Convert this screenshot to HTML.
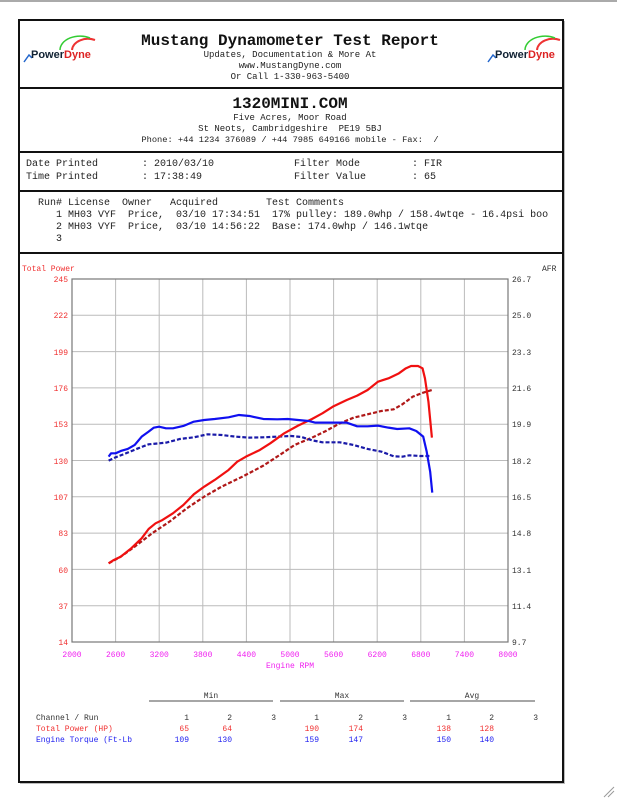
<!DOCTYPE html>
<html><head><meta charset="utf-8"><style>
html,body{margin:0;padding:0;background:#fff;}
body{width:617px;height:799px;position:relative;overflow:hidden;font-family:"Liberation Mono",monospace;color:#222;}
.t{position:absolute;white-space:pre;line-height:1;}
</style></head><body>
<div style="position:absolute;left:0;top:0;width:617px;height:2px;background:#aaa"></div>
<svg width="617" height="799" style="position:absolute;left:0;top:0">
<g fill="none" stroke="#111" stroke-width="2">
<rect x="19" y="20" width="544" height="762"/>
<line x1="19" y1="88" x2="563" y2="88"/>
<line x1="19" y1="152" x2="563" y2="152"/>
<line x1="19" y1="191" x2="563" y2="191"/>
<line x1="19" y1="253" x2="563" y2="253"/>
</g>
<line x1="20" y1="783.5" x2="564" y2="783.5" stroke="#bbb"/>
<line x1="564.5" y1="21" x2="564.5" y2="784" stroke="#bbb"/>
<g stroke="#999" stroke-width="1"><line x1="604" y1="797" x2="614" y2="787"/><line x1="608" y1="797" x2="614" y2="791"/></g>
<!-- logos -->
<g font-family="Liberation Sans,sans-serif" font-weight="bold" font-size="11">
<path d="M72 50 A16 12 0 0 1 95 40" stroke="#e33" stroke-width="2" fill="none"/>
<path d="M60 50 A20 14 0 0 1 90 38" stroke="#3c3" stroke-width="1.5" fill="none"/>
<path d="M24 62 L29 55 L32 58" stroke="#26c" stroke-width="1.5" fill="none"/>
<text x="31" y="58" fill="#123">Power<tspan fill="#d22">Dyne</tspan></text>
<path d="M537 50 A16 12 0 0 1 560 40" stroke="#e33" stroke-width="2" fill="none"/>
<path d="M525 50 A20 14 0 0 1 555 38" stroke="#3c3" stroke-width="1.5" fill="none"/>
<path d="M488 62 L493 55 L496 58" stroke="#26c" stroke-width="1.5" fill="none"/>
<text x="495" y="58" fill="#123">Power<tspan fill="#d22">Dyne</tspan></text>
</g>
<!-- chart grid -->
<g stroke="#bbb" stroke-width="1">
<line x1="115.6" y1="279" x2="115.6" y2="642"/><line x1="159.2" y1="279" x2="159.2" y2="642"/><line x1="202.8" y1="279" x2="202.8" y2="642"/><line x1="246.4" y1="279" x2="246.4" y2="642"/><line x1="290" y1="279" x2="290" y2="642"/><line x1="333.6" y1="279" x2="333.6" y2="642"/><line x1="377.2" y1="279" x2="377.2" y2="642"/><line x1="420.8" y1="279" x2="420.8" y2="642"/><line x1="464.4" y1="279" x2="464.4" y2="642"/>
<line x1="72" y1="315.3" x2="508" y2="315.3"/><line x1="72" y1="351.6" x2="508" y2="351.6"/><line x1="72" y1="387.9" x2="508" y2="387.9"/><line x1="72" y1="424.2" x2="508" y2="424.2"/><line x1="72" y1="460.5" x2="508" y2="460.5"/><line x1="72" y1="496.8" x2="508" y2="496.8"/><line x1="72" y1="533.1" x2="508" y2="533.1"/><line x1="72" y1="569.4" x2="508" y2="569.4"/><line x1="72" y1="605.7" x2="508" y2="605.7"/>
</g>
<rect x="72" y="279" width="436" height="363" fill="none" stroke="#777" stroke-width="1.2"/>
<g transform="translate(20,255) scale(0.3476,0.3333)" fill="none" stroke-width="2.2" stroke-linejoin="round">
<polyline vector-effect="non-scaling-stroke" stroke="#b01818" stroke-dasharray="4,2" points="255,925 290,905 330,875 380,835 430,800 480,760 530,725 580,695 640,665 700,632 750,598 790,570 840,548 880,528 920,505 960,488 1000,478 1040,468 1075,463 1100,448 1130,425 1160,413 1185,405"/>
<polyline vector-effect="non-scaling-stroke" stroke="#1a1aa8" stroke-dasharray="4,2" points="255,617 275,607 300,597 340,580 370,568 420,563 460,552 500,547 540,538 580,540 620,545 660,548 700,547 740,545 780,543 810,546 840,556 870,562 920,562 960,570 1000,582 1040,590 1075,604 1100,605 1120,601 1150,603 1180,603"/>
<polyline vector-effect="non-scaling-stroke" stroke="#f01010" points="255,925 270,915 290,905 320,880 350,850 370,822 390,805 410,795 440,775 470,750 500,718 530,695 560,675 600,645 625,620 650,605 690,585 720,565 760,535 800,512 840,492 870,475 900,455 940,435 970,422 1000,405 1030,380 1060,370 1090,355 1110,340 1125,333 1145,333 1158,340 1165,370 1175,440 1185,548"/>
<polyline vector-effect="non-scaling-stroke" stroke="#1010f0" points="255,605 262,595 275,595 290,588 310,582 330,570 350,545 370,530 385,518 400,515 420,520 440,520 470,513 500,500 530,495 560,492 600,487 630,480 660,483 700,492 740,493 770,492 800,495 830,498 850,503 900,503 940,503 970,514 1000,514 1030,512 1060,518 1085,522 1120,520 1140,528 1160,545 1170,590 1180,650 1186,713"/>
</g>
<g font-family="Liberation Mono,monospace" font-size="8">
<g fill="#f03030" text-anchor="end">
<text x="68" y="282">245</text><text x="68" y="318">222</text><text x="68" y="355">199</text><text x="68" y="391">176</text><text x="68" y="427">153</text><text x="68" y="464">130</text><text x="68" y="500">107</text><text x="68" y="536">83</text><text x="68" y="573">60</text><text x="68" y="609">37</text><text x="68" y="645">14</text>
</g>
<g fill="#333">
<text x="512" y="282">26.7</text><text x="512" y="318">25.0</text><text x="512" y="355">23.3</text><text x="512" y="391">21.6</text><text x="512" y="427">19.9</text><text x="512" y="464">18.2</text><text x="512" y="500">16.5</text><text x="512" y="536">14.8</text><text x="512" y="573">13.1</text><text x="512" y="609">11.4</text><text x="512" y="645">9.7</text>
<text x="542" y="271">AFR</text>
</g>
<text x="22" y="271" fill="#f03030">Total Power</text>
<g fill="#f020f0" text-anchor="middle">
<text x="72" y="657">2000</text><text x="115.6" y="657">2600</text><text x="159.2" y="657">3200</text><text x="202.8" y="657">3800</text><text x="246.4" y="657">4400</text><text x="290" y="657">5000</text><text x="333.6" y="657">5600</text><text x="377.2" y="657">6200</text><text x="420.8" y="657">6800</text><text x="464.4" y="657">7400</text><text x="508" y="657">8000</text>
<text x="290" y="668">Engine RPM</text>
</g>
<!-- stats -->
<g stroke="#888" stroke-width="1.5"><line x1="149" y1="701" x2="273" y2="701"/><line x1="280" y1="701" x2="404" y2="701"/><line x1="410" y1="701" x2="535" y2="701"/></g>
<g fill="#333" text-anchor="middle"><text x="211" y="698">Min</text><text x="342" y="698">Max</text><text x="472" y="698">Avg</text></g>
<text x="36" y="720" fill="#333">Channel / Run</text>
<text x="36" y="731" fill="#f03030">Total Power (HP)</text>
<text x="36" y="742" fill="#2020f0">Engine Torque (Ft-Lb</text>
<g text-anchor="end" fill="#333"><text x="189" y="720">1</text><text x="232" y="720">2</text><text x="276" y="720">3</text><text x="319" y="720">1</text><text x="363" y="720">2</text><text x="407" y="720">3</text><text x="451" y="720">1</text><text x="494" y="720">2</text><text x="538" y="720">3</text></g>
<g text-anchor="end" fill="#f03030"><text x="189" y="731">65</text><text x="232" y="731">64</text><text x="319" y="731">190</text><text x="363" y="731">174</text><text x="451" y="731">138</text><text x="494" y="731">128</text></g>
<g text-anchor="end" fill="#2020f0"><text x="189" y="742">109</text><text x="232" y="742">130</text><text x="319" y="742">159</text><text x="363" y="742">147</text><text x="451" y="742">150</text><text x="494" y="742">140</text></g>
</g>
</svg>
<div class="t" style="left:0;width:580px;text-align:center;top:33px;font-size:16px;font-weight:bold;color:#111">Mustang Dynamometer Test Report</div>
<div class="t" style="left:0;width:580px;text-align:center;top:51px;font-size:9px">Updates, Documentation &amp; More At</div>
<div class="t" style="left:0;width:580px;text-align:center;top:62px;font-size:9px">www.MustangDyne.com</div>
<div class="t" style="left:0;width:580px;text-align:center;top:73px;font-size:9px">Or Call 1-330-963-5400</div>
<div class="t" style="left:0;width:580px;text-align:center;top:96px;font-size:16px;font-weight:bold;color:#111">1320MINI.COM</div>
<div class="t" style="left:0;width:580px;text-align:center;top:114px;font-size:9px">Five Acres, Moor Road</div>
<div class="t" style="left:0;width:580px;text-align:center;top:125px;font-size:9px">St Neots, Cambridgeshire  PE19 5BJ</div>
<div class="t" style="left:0;width:580px;text-align:center;top:136px;font-size:8.7px">Phone: +44 1234 376089 / +44 7985 649166 mobile - Fax:  /</div>
<div class="t" style="left:26px;top:160px;font-size:10px">Date Printed</div>
<div class="t" style="left:26px;top:173px;font-size:10px">Time Printed</div>
<div class="t" style="left:142px;top:160px;font-size:10px">: 2010/03/10</div>
<div class="t" style="left:142px;top:173px;font-size:10px">: 17:38:49</div>
<div class="t" style="left:294px;top:160px;font-size:10px">Filter Mode</div>
<div class="t" style="left:294px;top:173px;font-size:10px">Filter Value</div>
<div class="t" style="left:412px;top:160px;font-size:10px">: FIR</div>
<div class="t" style="left:412px;top:173px;font-size:10px">: 65</div>
<div class="t" style="left:38px;top:199px;font-size:10px">Run# License  Owner   Acquired        Test Comments</div>
<div class="t" style="left:38px;top:211px;font-size:10px">   1 MH03 VYF  Price,  03/10 17:34:51  17% pulley: 189.0whp / 158.4wtqe - 16.4psi boo</div>
<div class="t" style="left:38px;top:223px;font-size:10px">   2 MH03 VYF  Price,  03/10 14:56:22  Base: 174.0whp / 146.1wtqe</div>
<div class="t" style="left:38px;top:235px;font-size:10px">   3</div>
</body></html>
